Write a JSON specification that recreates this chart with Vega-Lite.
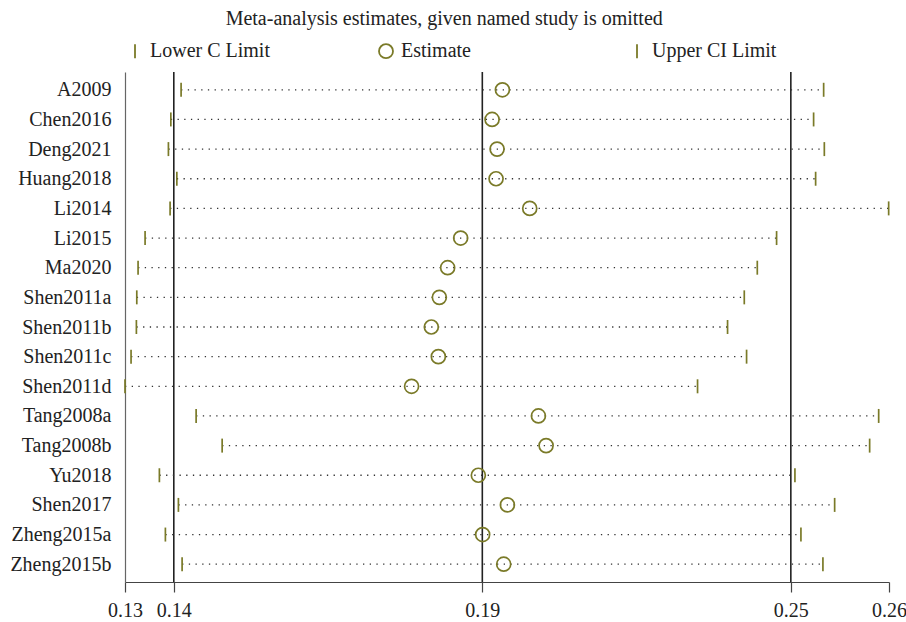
{
  "$schema": "https://vega.github.io/schema/vega-lite/v6.json",
  "width": 764,
  "height": 510,
  "autosize": {"type": "none"},
  "padding": {"left": 125, "top": 72, "right": 17, "bottom": 40},
  "background": "white",
  "title": {
    "text": "Meta-analysis estimates, given named study is omitted",
    "font": "Liberation Serif",
    "fontSize": 20,
    "fontWeight": "normal",
    "color": "#222222",
    "anchor": "middle",
    "frame": "bounds",
    "offset": 12,
    "dx": -14
  },
  "config": {
    "view": {"stroke": null},
    "font": "Liberation Serif",
    "legend": {
      "orient": "top",
      "direction": "horizontal",
      "columns": 3,
      "gridAlign": "all",
      "columnPadding": 100,
      "symbolSize": 196,
      "symbolStrokeWidth": 1.8,
      "labelFont": "Liberation Serif",
      "labelFontSize": 20,
      "labelColor": "#222222",
      "labelOffset": 5,
      "labelLimit": 300,
      "offset": 10,
      "padding": 0
    }
  },
  "datasets": {
    "studies": [
      {"study": "A2009", "lower": 0.14180, "estimate": 0.19908, "upper": 0.25635},
      {"study": "Chen2016", "lower": 0.13997, "estimate": 0.19724, "upper": 0.25456},
      {"study": "Deng2021", "lower": 0.13954, "estimate": 0.19813, "upper": 0.25647},
      {"study": "Huang2018", "lower": 0.14104, "estimate": 0.19795, "upper": 0.25492},
      {"study": "Li2014", "lower": 0.13984, "estimate": 0.20395, "upper": 0.26794},
      {"study": "Li2015", "lower": 0.13538, "estimate": 0.19164, "upper": 0.24796},
      {"study": "Ma2020", "lower": 0.13413, "estimate": 0.18932, "upper": 0.24452},
      {"study": "Shen2011a", "lower": 0.13390, "estimate": 0.18784, "upper": 0.24220},
      {"study": "Shen2011b", "lower": 0.13383, "estimate": 0.18641, "upper": 0.23922},
      {"study": "Shen2011c", "lower": 0.13288, "estimate": 0.18766, "upper": 0.24261},
      {"study": "Shen2011d", "lower": 0.13180, "estimate": 0.18289, "upper": 0.23387},
      {"study": "Tang2008a", "lower": 0.14448, "estimate": 0.20550, "upper": 0.26616},
      {"study": "Tang2008b", "lower": 0.14912, "estimate": 0.20687, "upper": 0.26455},
      {"study": "Yu2018", "lower": 0.13793, "estimate": 0.19479, "upper": 0.25123},
      {"study": "Shen2017", "lower": 0.14132, "estimate": 0.19997, "upper": 0.25831},
      {"study": "Zheng2015a", "lower": 0.13900, "estimate": 0.19556, "upper": 0.25230},
      {"study": "Zheng2015b", "lower": 0.14198, "estimate": 0.19931, "upper": 0.25622}
    ],
    "overall": [
      {"value": 0.1405},
      {"value": 0.1955},
      {"value": 0.2505}
    ]
  },
  "encoding": {
    "y": {
      "field": "study",
      "type": "nominal",
      "sort": null,
      "scale": {"type": "point", "padding": 0.6},
      "axis": {
        "title": null,
        "ticks": false,
        "tickSize": 0,
        "grid": false,
        "domainColor": "#666666",
        "domainWidth": 1.2,
        "labelPadding": 14,
        "labelFont": "Liberation Serif",
        "labelFontSize": 20,
        "labelColor": "#222222"
      }
    }
  },
  "layer": [
    {
      "data": {"name": "overall"},
      "mark": {"type": "rule", "color": "#222222", "strokeWidth": 1.6},
      "encoding": {
        "x": {
          "field": "value",
          "type": "quantitative",
          "scale": {"domain": [0.1318, 0.268], "zero": false, "nice": false},
          "axis": {
            "title": null,
            "grid": false,
            "values": [0.1318, 0.1405, 0.1955, 0.2505, 0.268],
            "labelExpr": "format(floor(datum.value * 100 + 1e-9) / 100, '.2f')",
            "labelFlush": false,
            "labelOverlap": false,
            "labelBound": false,
            "tickSize": 10,
            "tickColor": "#444444",
            "tickWidth": 1.2,
            "domainColor": "#444444",
            "domainWidth": 1.2,
            "labelPadding": 8,
            "labelFont": "Liberation Serif",
            "labelFontSize": 20,
            "labelColor": "#222222"
          }
        },
        "y": null
      }
    },
    {
      "data": {"name": "studies"},
      "mark": {"type": "rule", "color": "#333333", "strokeWidth": 1.3, "strokeDash": [1.3, 5.4]},
      "encoding": {
        "x": {"field": "lower", "type": "quantitative"},
        "x2": {"field": "upper"}
      }
    },
    {
      "data": {"name": "studies"},
      "transform": [
        {"fold": ["lower", "estimate", "upper"], "as": ["series", "value"]}
      ],
      "mark": {"type": "point", "filled": false, "color": "#7a7a28", "size": 196, "strokeWidth": 1.7, "opacity": 1},
      "encoding": {
        "x": {"field": "value", "type": "quantitative"},
        "shape": {
          "field": "series",
          "type": "nominal",
          "scale": {
            "domain": ["lower", "estimate", "upper"],
            "range": ["M0,-1L0,1", "circle", "M0,-1L0,1"]
          },
          "legend": {
            "title": null,
            "labelExpr": "datum.label == 'lower' ? 'Lower C Limit' : datum.label == 'estimate' ? 'Estimate' : 'Upper CI Limit'"
          }
        }
      }
    }
  ]
}
